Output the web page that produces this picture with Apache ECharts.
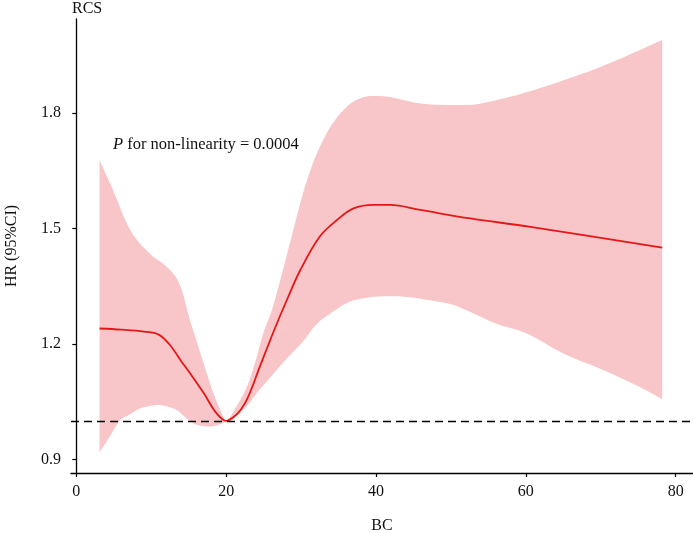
<!DOCTYPE html>
<html>
<head>
<meta charset="utf-8">
<script src="https://cdn.jsdelivr.net/npm/echarts@6/dist/echarts.min.js"></script>
<style>
  html, body { margin: 0; padding: 0; background: #fff; }
  #main { width: 693px; height: 533px; }
</style>
</head>
<body>
<div id="main"></div>
<script>
// fitted curve (HR)
const curveX = [3.1, 6, 9, 11, 12.5, 14, 15.2, 17, 18.7, 20, 21, 22, 23, 24.5, 26.5, 28.1, 29.9, 32.5, 34.8, 37, 39.7, 41.9, 45.9, 52.6, 60.6, 78.2];
const curveY = [1.240, 1.237, 1.232, 1.224, 1.197, 1.155, 1.123, 1.072, 1.020, 1.000, 1.010, 1.030, 1.065, 1.141, 1.240, 1.314, 1.392, 1.479, 1.522, 1.552, 1.561, 1.561, 1.548, 1.526, 1.504, 1.450];

// upper bound of 95% CI
const upperX = [3.1, 4.9, 7.2, 9.8, 12.1, 13.8, 15.2, 16.1, 17, 18.3, 19.6, 20, 21, 22.7, 24, 25, 26.3, 28.1, 30.8, 33.4, 36.1, 38.3, 40.5, 42.8, 45.9, 50, 53.5, 57.9, 63.2, 67.7, 72.2, 78.2];
const upperY = [1.678, 1.600, 1.496, 1.435, 1.400, 1.355, 1.260, 1.205, 1.149, 1.072, 1.011, 1.000, 1.025, 1.085, 1.160, 1.230, 1.300, 1.430, 1.626, 1.747, 1.816, 1.841, 1.844, 1.838, 1.825, 1.821, 1.823, 1.842, 1.873, 1.903, 1.938, 1.990];

// lower bound of 95% CI
const lowerX = [3.1, 4.5, 5.8, 7, 8.5, 10.7, 12, 13.4, 14.5, 15.6, 16.7, 17.8, 19, 20, 21, 22.7, 24, 26, 28, 30, 32, 34, 36, 38, 40.5, 44, 47, 50, 52, 56, 60, 65, 70, 75, 78.2];
const lowerY = [0.918, 0.960, 1.000, 1.015, 1.032, 1.041, 1.038, 1.028, 1.010, 0.994, 0.987, 0.985, 0.990, 0.998, 1.005, 1.037, 1.070, 1.115, 1.160, 1.200, 1.250, 1.280, 1.305, 1.317, 1.323, 1.322, 1.314, 1.303, 1.288, 1.253, 1.228, 1.175, 1.135, 1.090, 1.056];

const xTicks = [0, 20, 40, 60, 80];
const yTicks = [0.9, 1.2, 1.5, 1.8];
const refHR = 1.0;

const font = '"Liberation Serif", "DejaVu Serif", serif';
const chart = echarts.init(document.getElementById('main'), null, { renderer: 'canvas' });

// catmull-rom -> bezier segments for an open polyline (pixel points)
function curveSegs(pts) {
  let d = '';
  for (let i = 0; i < pts.length - 1; i++) {
    const p0 = pts[i - 1] || pts[i];
    const p1 = pts[i];
    const p2 = pts[i + 1];
    const p3 = pts[i + 2] || p2;
    const c1 = [p1[0] + (p2[0] - p0[0]) / 6, p1[1] + (p2[1] - p0[1]) / 6];
    const c2 = [p2[0] - (p3[0] - p1[0]) / 6, p2[1] - (p3[1] - p1[1]) / 6];
    d += ` C${c1[0]},${c1[1]} ${c2[0]},${c2[1]} ${p2[0]},${p2[1]}`;
  }
  return d;
}

// band: upper left->right, then lower right->left
function renderBand(params, api) {
  const up = upperX.map((x, i) => api.coord([x, upperY[i]]));
  const lo = lowerX.map((x, i) => api.coord([x, lowerY[i]])).reverse();
  const d = `M${up[0][0]},${up[0][1]}` + curveSegs(up) +
    ` L${lo[0][0]},${lo[0][1]}` + curveSegs(lo) + ' Z';
  return {
    type: 'path',
    shape: { pathData: d },
    style: { fill: '#f8c6c9' }
  };
}

const option = {
  animation: false,
  grid: { left: 71, top: 19, right: 0, bottom: 60, containLabel: false, outerBoundsMode: 'none' },
  xAxis: {
    type: 'value',
    min: -0.707,
    max: 82.31,
    name: 'BC',
    nameLocation: 'middle',
    nameGap: 45,
    nameTextStyle: { fontFamily: font, fontSize: 16, color: '#111' },
    splitLine: { show: false },
    axisLine: { lineStyle: { color: '#000', width: 1.3 } },
    axisTick: { customValues: xTicks, length: 4, lineStyle: { color: '#000', width: 1.2 } },
    axisLabel: { customValues: xTicks, margin: 11, fontFamily: font, fontSize: 16, color: '#111' }
  },
  yAxis: {
    type: 'value',
    min: 0.8644,
    max: 2.0443,
    name: 'HR (95%CI)',
    nameLocation: 'middle',
    nameGap: 51,
    nameTextStyle: { fontFamily: font, fontSize: 16, color: '#111' },
    splitLine: { show: false },
    axisLine: { show: true, lineStyle: { color: '#000', width: 1.3 } },
    axisTick: { show: true, customValues: yTicks, length: 4, lineStyle: { color: '#000', width: 1.2 } },
    axisLabel: {
      customValues: yTicks, margin: 10, fontFamily: font, fontSize: 16, color: '#111',
      formatter: v => v.toFixed(1)
    }
  },
  graphic: [
    {
      type: 'text', left: 72, top: 1,
      style: { text: 'RCS', font: '16px ' + font, fill: '#111' }
    },
    {
      type: 'text', left: 113, top: 136,
      style: {
        text: '{i|P} for non-linearity = 0.0004',
        font: '16.5px ' + font,
        fill: '#111',
        rich: { i: { fontStyle: 'italic', fontFamily: font, fontSize: 16.5, fill: '#111' } }
      }
    }
  ],
  series: [
    {
      type: 'custom',
      renderItem: renderBand,
      data: [[upperX[0], upperY[0]]],
      silent: true,
      z: 1
    },
    {
      type: 'line',
      data: curveX.map((x, i) => [x, curveY[i]]),
      smooth: 0.35,
      symbol: 'none',
      lineStyle: { color: '#e51616', width: 1.8 },
      z: 3,
      markLine: {
        silent: true,
        symbol: 'none',
        label: { show: false },
        lineStyle: { color: '#000', type: [8, 5], width: 1.3 },
        data: [{ yAxis: refHR }]
      }
    }
  ]
};

chart.setOption(option);
</script>
</body>
</html>
